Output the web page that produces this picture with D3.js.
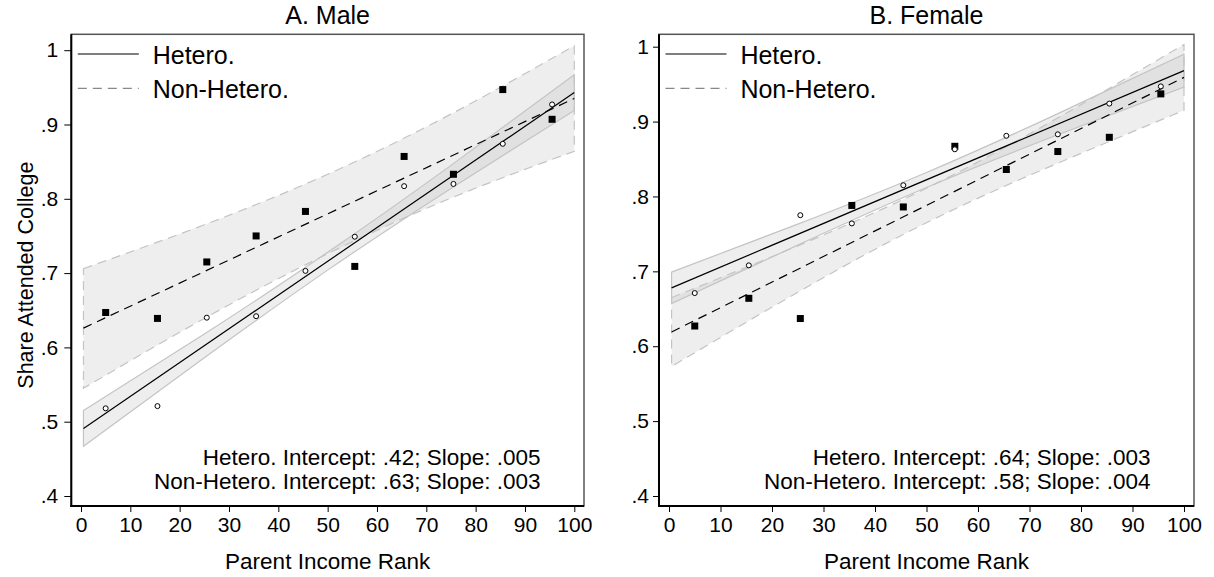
<!DOCTYPE html>
<html>
<head>
<meta charset="utf-8">
<script src="https://cdn.jsdelivr.net/npm/d3@7"></script>
<style>
  html, body { margin: 0; padding: 0; background: #fff; }
  svg { display: block; font-family: "Liberation Sans", Arial, Helvetica, sans-serif; }
</style>
</head>
<body>
<svg id="chart" width="1214" height="577"></svg>
<script>
// Parent income rank bins (x of every scatter point)
const rankBins = [5, 15.5, 25.5, 35.5, 45.5, 55.5, 65.5, 75.5, 85.5, 95.5];

// Share attended college by bin
const maleHetero      = [0.518, 0.521, 0.640, 0.642, 0.703, 0.749, 0.817, 0.820, 0.874, 0.927];
const maleNonHetero   = [0.647, 0.639, 0.715, 0.750, 0.783, 0.709, 0.857, 0.833, 0.947, 0.907];
const femaleHetero    = [0.671, 0.708, 0.775, 0.764, 0.815, 0.863, 0.881, 0.883, 0.924, 0.947];
const femaleNonHetero = [0.627, 0.664, 0.637, 0.788, 0.786, 0.867, 0.836, 0.860, 0.879, 0.937];

// Linear fits (value at each end of the rank range)
const fitX = [0.5, 100];
const maleHeteroFit      = [0.491, 0.943];
const maleNonHeteroFit   = [0.626, 0.935];
const femaleHeteroFit    = [0.678, 0.968];
const femaleNonHeteroFit = [0.619, 0.959];

// 95% confidence bands of the fits
const bandX = [0.5, 25, 50, 75, 100];
const maleHeteroLo      = [0.467, 0.586, 0.704, 0.814, 0.919];
const maleHeteroHi      = [0.515, 0.618, 0.728, 0.845, 0.967];
const maleNonHeteroLo   = [0.545, 0.639, 0.726, 0.801, 0.864];
const maleNonHeteroHi   = [0.706, 0.765, 0.833, 0.914, 1.006];
const femaleHeteroLo    = [0.657, 0.735, 0.812, 0.881, 0.946];
const femaleHeteroHi    = [0.699, 0.763, 0.832, 0.909, 0.990];
const femaleNonHeteroLo = [0.573, 0.672, 0.765, 0.843, 0.915];
const femaleNonHeteroHi = [0.665, 0.734, 0.811, 0.903, 1.003];

// Axes
const xTicks = [0, 10, 20, 30, 40, 50, 60, 70, 80, 90, 100];
const yTicks = [0.4, 0.5, 0.6, 0.7, 0.8, 0.9, 1];
const seriesNames = ["Hetero.", "Non-Hetero."];
const panelTitles = ["A. Male", "B. Female"];
const fitNotes = [
  ["Hetero. Intercept: .42; Slope: .005", "Non-Hetero. Intercept: .63; Slope: .003"],
  ["Hetero. Intercept: .64; Slope: .003", "Non-Hetero. Intercept: .58; Slope: .004"]
];
const xTitle = "Parent Income Rank";
const yTitle = "Share Attended College";

const panels = [
  {
    title: panelTitles[0], notes: fitNotes[0],
    frame: { l: 71.3, t: 34.3, r: 584, b: 506 },
    xr: [81, 574.3], yr: [496, 50.2], yTick: 7, yPad: 6,
    hetero: maleHetero, non: maleNonHetero,
    heteroFit: maleHeteroFit, nonFit: maleNonHeteroFit,
    heteroLo: maleHeteroLo, heteroHi: maleHeteroHi,
    nonLo: maleNonHeteroLo, nonHi: maleNonHeteroHi
  },
  {
    title: panelTitles[1], notes: fitNotes[1],
    frame: { l: 659, t: 34.3, r: 1194, b: 506 },
    xr: [669, 1184], yr: [496, 46.7], yTick: 6, yPad: 4,
    hetero: femaleHetero, non: femaleNonHetero,
    heteroFit: femaleHeteroFit, nonFit: femaleNonHeteroFit,
    heteroLo: femaleHeteroLo, heteroHi: femaleHeteroHi,
    nonLo: femaleNonHeteroLo, nonHi: femaleNonHeteroHi
  }
];

const svg = d3.select("#chart");
const fmtY = d => (d === 1 ? "1" : d3.format(".1f")(d).replace(/^0/, ""));

const BAND_FILL = "#bdbdbd";
const BAND_OPACITY = 0.25;
const BAND_EDGE = "#c4c4c4";
const DASH = "9,6";

panels.forEach((p, pi) => {
  const x = d3.scaleLinear().domain([0, 100]).range(p.xr);
  const y = d3.scaleLinear().domain([0.4, 1]).range(p.yr);
  const g = svg.append("g");
  const f = p.frame;

  // Confidence bands
  const area = d3.area()
    .x(d => x(d.x)).y0(d => y(d.lo)).y1(d => y(d.hi))
    .curve(d3.curveNatural);
  const bandRows = (lo, hi) => bandX.map((bx, i) => ({ x: bx, lo: lo[i], hi: hi[i] }));

  const bandPath = rows => {
    // closed outline incl. the vertical ends
    const top = d3.line().x(d => x(d.x)).y(d => y(d.hi)).curve(d3.curveNatural)(rows);
    const bot = d3.line().x(d => x(d.x)).y(d => y(d.lo)).curve(d3.curveNatural)(rows.slice().reverse());
    return top + "L" + bot.slice(1) + "Z";
  };

  const nonRows = bandRows(p.nonLo, p.nonHi);
  const hetRows = bandRows(p.heteroLo, p.heteroHi);

  g.append("path").attr("d", area(nonRows))
    .attr("fill", BAND_FILL).attr("fill-opacity", BAND_OPACITY);
  g.append("path").attr("d", area(hetRows))
    .attr("fill", BAND_FILL).attr("fill-opacity", BAND_OPACITY);
  g.append("path").attr("d", bandPath(nonRows))
    .attr("fill", "none").attr("stroke", BAND_EDGE).attr("stroke-width", 1.2)
    .attr("stroke-dasharray", DASH);
  g.append("path").attr("d", bandPath(hetRows))
    .attr("fill", "none").attr("stroke", BAND_EDGE).attr("stroke-width", 1.2);

  // Fitted lines
  const fitLine = d3.line().x(d => x(d[0])).y(d => y(d[1]));
  g.append("path").attr("d", fitLine(fitX.map((fx, i) => [fx, p.nonFit[i]])))
    .attr("fill", "none").attr("stroke", "#000").attr("stroke-width", 1.2)
    .attr("stroke-dasharray", DASH);
  g.append("path").attr("d", fitLine(fitX.map((fx, i) => [fx, p.heteroFit[i]])))
    .attr("fill", "none").attr("stroke", "#000").attr("stroke-width", 1.2);

  // Scatter points
  const sq = 7;
  g.selectAll(".sq").data(rankBins.map((r, i) => [r, p.non[i]])).enter()
    .append("rect")
    .attr("x", d => x(d[0]) - sq / 2).attr("y", d => y(d[1]) - sq / 2)
    .attr("width", sq).attr("height", sq).attr("fill", "#000");
  g.selectAll(".ci").data(rankBins.map((r, i) => [r, p.hetero[i]])).enter()
    .append("circle")
    .attr("cx", d => x(d[0])).attr("cy", d => y(d[1])).attr("r", 2.5)
    .attr("fill", "#fff").attr("stroke", "#000").attr("stroke-width", 1);

  // Plot frame: grey outline, black axis lines
  g.append("rect").attr("x", f.l).attr("y", f.t)
    .attr("width", f.r - f.l).attr("height", f.b - f.t)
    .attr("fill", "none").attr("stroke", "#555").attr("stroke-width", 1.5);
  g.append("line").attr("x1", f.l).attr("x2", f.l).attr("y1", f.t).attr("y2", f.b + 1)
    .attr("stroke", "#000").attr("stroke-width", 2);
  g.append("line").attr("x1", f.l - 1).attr("x2", f.r).attr("y1", f.b).attr("y2", f.b)
    .attr("stroke", "#000").attr("stroke-width", 2);

  // Axes
  const xAxis = d3.axisBottom(x).tickValues(xTicks).tickFormat(d3.format("d"))
    .tickSize(6).tickPadding(5.4);
  const xa = g.append("g").attr("transform", `translate(0,${f.b})`).call(xAxis);
  xa.select(".domain").remove();
  xa.selectAll("text").attr("font-size", 21).attr("fill", "#000")
    .attr("font-family", "Liberation Sans, Arial, sans-serif");
  xa.selectAll("line").attr("stroke", "#000").attr("stroke-width", 1);

  const yAxis = d3.axisLeft(y).tickValues(yTicks).tickFormat(fmtY)
    .tickSize(p.yTick).tickPadding(p.yPad);
  const ya = g.append("g").attr("transform", `translate(${f.l},0)`).call(yAxis);
  ya.select(".domain").remove();
  ya.selectAll("text").attr("font-size", 21).attr("fill", "#000")
    .attr("font-family", "Liberation Sans, Arial, sans-serif");
  ya.selectAll("line").attr("stroke", "#000").attr("stroke-width", 1);

  // Panel title
  g.append("text").attr("x", (f.l + f.r) / 2).attr("y", 23.5)
    .attr("text-anchor", "middle").attr("font-size", 25).text(p.title);

  // X axis title
  g.append("text").attr("x", (f.l + f.r) / 2).attr("y", 569)
    .attr("text-anchor", "middle").attr("font-size", 22.5).text(xTitle);

  // Legend
  const lg = g.append("g");
  const keyY = [f.t + 19.7, f.t + 54];
  lg.append("line").attr("x1", f.l + 6.5).attr("x2", f.l + 67.5)
    .attr("y1", keyY[0]).attr("y2", keyY[0]).attr("stroke", "#000").attr("stroke-width", 1.2);
  lg.append("line").attr("x1", f.l + 6.5).attr("x2", f.l + 67.5)
    .attr("y1", keyY[1]).attr("y2", keyY[1]).attr("stroke", "#888").attr("stroke-width", 1.2)
    .attr("stroke-dasharray", DASH);
  seriesNames.forEach((name, i) => {
    lg.append("text").attr("x", f.l + 81.4).attr("y", keyY[i] + 9.5)
      .attr("font-size", 25).text(name);
  });

  // Fit notes
  p.notes.forEach((t, i) => {
    g.append("text").attr("x", f.r - 43.5).attr("y", 464.5 + i * 24)
      .attr("text-anchor", "end").attr("font-size", 22.5).text(t);
  });

  // Y axis title (left panel only)
  if (pi === 0) {
    g.append("text").attr("transform", `translate(33,${(f.t + f.b) / 2 + 5}) rotate(-90)`)
      .attr("text-anchor", "middle").attr("font-size", 21.5).text(yTitle);
  }
});
</script>
</body>
</html>
